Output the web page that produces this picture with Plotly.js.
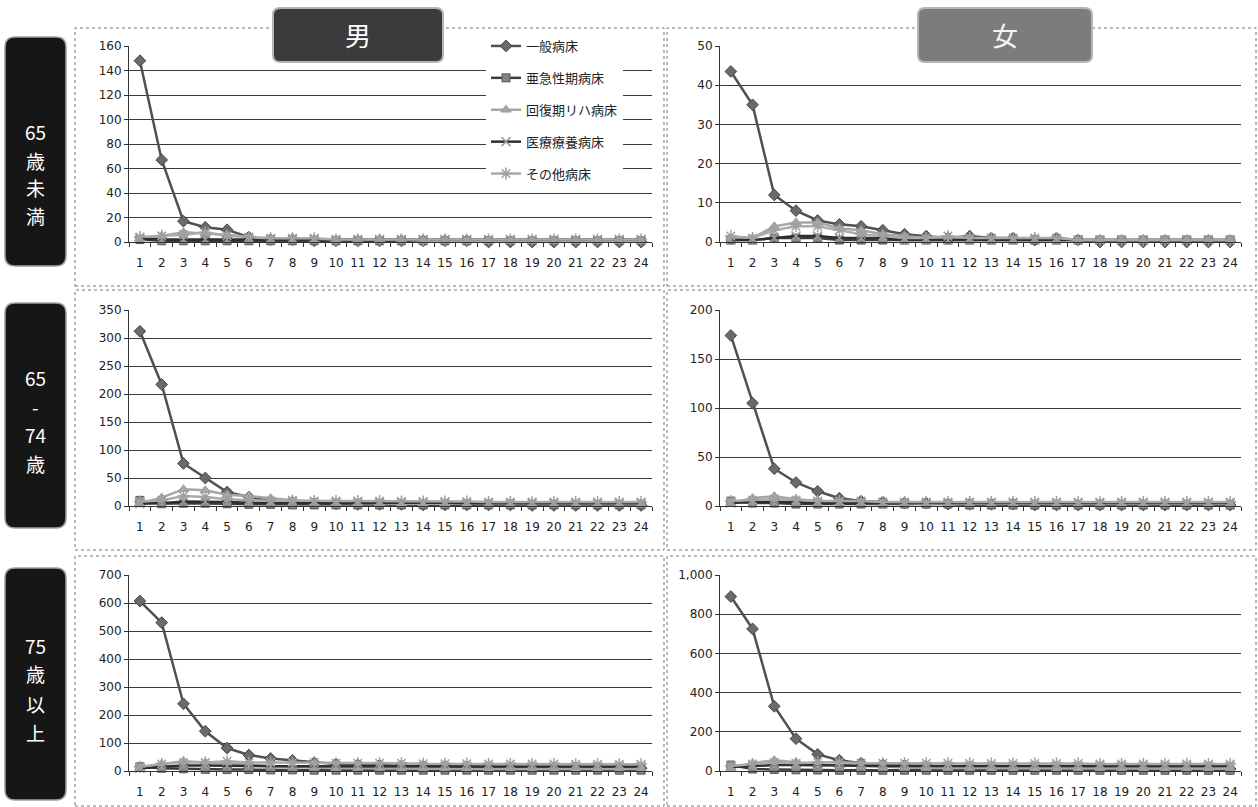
<!DOCTYPE html>
<html>
<head>
<meta charset="utf-8">
<script src="https://cdn.plot.ly/plotly-3.0.1.min.js"></script>
<style>
  html, body { margin: 0; padding: 0; background: #fff; }
  #chart { width: 1258px; height: 807px; }
</style>
</head>
<body>
<div id="chart"></div>
<script>
// Categories 1..24
const categories = Array.from({length: 24}, (_, i) => String(i + 1));

const seriesNames = ['一般病床', '亜急性期病床', '回復期リハ病床', '医療療養病床', 'その他病床'];

// 男・65歳未満
const ippan_m1   = [148, 67, 17, 12, 10, 4, 2, 2, 1, 1, 1, 1, 1, 1, 1, 1, 0, 0, 0, 0, 0, 0, 0, 0];
const akyu_m1    = [2, 1, 1, 1, 1, 1, 1, 1, 1, 1, 1, 1, 1, 1, 1, 1, 1, 1, 1, 1, 1, 1, 1, 1];
const kaifuku_m1 = [3, 5, 8, 7, 6, 4, 3, 3, 2, 2, 2, 2, 2, 1, 1, 1, 1, 1, 1, 1, 1, 1, 1, 1];
const ryoyo_m1   = [3, 2, 2, 2, 2, 2, 2, 2, 2, 2, 2, 2, 2, 2, 2, 2, 2, 2, 2, 2, 2, 2, 2, 2];
const sonota_m1  = [4, 5, 6, 8, 5, 4, 3, 3, 3, 2, 2, 2, 2, 2, 2, 2, 2, 2, 2, 2, 2, 2, 2, 2];

// 女・65歳未満
const ippan_f1   = [43.5, 35, 12, 8, 5.5, 4.5, 4, 3, 2, 1.5, 1, 1.5, 1, 1, 0.5, 1, 0.5, 0, 0, 0, 0, 0, 0, 0];
const akyu_f1    = [0.5, 0.5, 1, 1, 1, 0.5, 0.5, 0.5, 0.5, 0.5, 0.5, 0.5, 0.5, 0.5, 0.5, 0.5, 0.5, 0.5, 0.5, 0.5, 0.5, 0.5, 0.5, 0.5];
const kaifuku_f1 = [1, 1, 4, 5, 5, 3.5, 3, 2, 1.5, 1, 1, 1, 0.5, 0.5, 0.5, 0.5, 0.5, 0.5, 0.5, 0.5, 0.5, 0.5, 0.5, 0.5];
const ryoyo_f1   = [0.5, 0.5, 1, 1.5, 1.5, 1, 1, 1, 0.5, 0.5, 0.5, 0.5, 0.5, 0.5, 0.5, 0.5, 0.5, 0.5, 0.5, 0.5, 0.5, 0.5, 0.5, 0.5];
const sonota_f1  = [1.5, 1, 3, 4, 4, 3, 2, 1.5, 1, 1, 1.5, 1, 1, 1, 1, 1, 0.5, 0.5, 0.5, 0.5, 0.5, 0.5, 0.5, 0.5];

// 男・65-74歳
const ippan_m2   = [312, 217, 76, 50, 25, 16, 9, 6, 5, 4, 3, 3, 3, 2, 2, 2, 2, 2, 1, 1, 1, 1, 1, 1];
const akyu_m2    = [10, 4, 5, 5, 4, 3, 3, 2, 2, 2, 2, 2, 2, 2, 2, 2, 2, 2, 2, 2, 2, 2, 2, 2];
const kaifuku_m2 = [5, 15, 30, 28, 20, 18, 14, 10, 7, 6, 5, 5, 4, 4, 4, 3, 3, 3, 3, 3, 3, 3, 3, 3];
const ryoyo_m2   = [4, 5, 8, 8, 7, 6, 6, 7, 7, 6, 6, 6, 6, 6, 6, 5, 5, 5, 5, 5, 5, 5, 5, 5];
const sonota_m2  = [8, 10, 18, 16, 12, 10, 9, 10, 9, 9, 9, 9, 8, 8, 8, 8, 7, 7, 7, 7, 7, 7, 7, 7];

// 女・65-74歳
const ippan_f2   = [174, 105, 38, 24, 15, 8, 5, 4, 3, 3, 2, 2, 2, 2, 1, 1, 1, 1, 1, 1, 1, 1, 1, 1];
const akyu_f2    = [5, 3, 3, 2, 2, 2, 2, 2, 2, 2, 2, 1, 1, 1, 1, 1, 1, 1, 1, 1, 1, 1, 1, 1];
const kaifuku_f2 = [3, 8, 10, 7, 5, 4, 3, 3, 3, 2, 2, 2, 2, 2, 2, 2, 2, 2, 2, 2, 2, 2, 2, 2];
const ryoyo_f2   = [3, 4, 4, 4, 3, 3, 3, 3, 3, 3, 3, 3, 3, 3, 3, 3, 3, 3, 3, 3, 3, 3, 3, 3];
const sonota_f2  = [5, 6, 7, 6, 5, 5, 5, 4, 4, 4, 4, 4, 4, 4, 4, 4, 4, 4, 4, 4, 4, 4, 4, 4];

// 男・75歳以上
const ippan_m3   = [607, 530, 240, 142, 82, 57, 45, 38, 30, 25, 22, 20, 18, 17, 16, 15, 14, 13, 12, 12, 11, 10, 10, 10];
const akyu_m3    = [15, 10, 8, 6, 5, 5, 4, 4, 3, 3, 3, 3, 3, 3, 3, 3, 3, 3, 3, 3, 3, 3, 3, 3];
const kaifuku_m3 = [12, 25, 35, 30, 25, 22, 18, 15, 12, 10, 10, 9, 8, 8, 8, 7, 7, 7, 7, 7, 7, 7, 7, 7];
const ryoyo_m3   = [10, 15, 20, 20, 18, 18, 17, 17, 17, 17, 17, 17, 17, 16, 16, 16, 16, 16, 16, 16, 16, 16, 16, 16];
const sonota_m3  = [15, 25, 30, 30, 35, 30, 30, 30, 30, 28, 28, 28, 28, 26, 26, 26, 25, 25, 25, 25, 24, 24, 24, 24];

// 女・75歳以上
const ippan_f3   = [890, 725, 330, 165, 85, 55, 40, 32, 28, 25, 22, 20, 19, 18, 17, 16, 15, 14, 13, 13, 12, 12, 11, 11];
const akyu_f3    = [30, 10, 8, 6, 5, 4, 4, 4, 4, 4, 4, 4, 4, 4, 4, 4, 4, 4, 4, 4, 4, 4, 4, 4];
const kaifuku_f3 = [15, 40, 55, 45, 35, 30, 25, 20, 18, 15, 15, 14, 13, 12, 12, 12, 12, 12, 12, 12, 12, 12, 12, 12];
const ryoyo_f3   = [20, 25, 30, 30, 28, 28, 25, 25, 25, 25, 25, 25, 25, 25, 25, 25, 25, 25, 25, 25, 25, 25, 25, 25];
const sonota_f3  = [25, 35, 45, 40, 45, 45, 40, 40, 40, 40, 40, 38, 38, 38, 38, 38, 38, 36, 36, 36, 36, 36, 36, 36];

// y-axis scales per panel
const yMax   = [160, 50, 350, 200, 700, 1000];
const yDtick = [20, 10, 50, 50, 100, 200];

// panel order: [男<65, 女<65, 男65-74, 女65-74, 男75+, 女75+]
const panels = [
  [ippan_m1, akyu_m1, kaifuku_m1, ryoyo_m1, sonota_m1],
  [ippan_f1, akyu_f1, kaifuku_f1, ryoyo_f1, sonota_f1],
  [ippan_m2, akyu_m2, kaifuku_m2, ryoyo_m2, sonota_m2],
  [ippan_f2, akyu_f2, kaifuku_f2, ryoyo_f2, sonota_f2],
  [ippan_m3, akyu_m3, kaifuku_m3, ryoyo_m3, sonota_m3],
  [ippan_f3, akyu_f3, kaifuku_f3, ryoyo_f3, sonota_f3]
];

// row label lines and header texts
const rowLabelLines = [['65', '歳', '未', '満'], ['65', '-', '74', '歳'], ['75', '歳', '以', '上']];
const headerTexts = ['男', '女'];

// grayscale series styling
const styles = [
  {line: {color: '#505050', width: 2.5}, marker: {symbol: 'diamond', size: 9, color: '#6a6a6a', line: {color: '#444', width: 1}}},
  {line: {color: '#3c3c3c', width: 2.5}, marker: {symbol: 'square', size: 8, color: '#858585', line: {color: '#555', width: 1}}},
  {line: {color: '#a6a6a6', width: 2.5}, marker: {symbol: 'triangle-up', size: 9, color: '#a8a8a8', line: {color: '#999', width: 1}}},
  {line: {color: '#2e2e2e', width: 2.5}, marker: {symbol: 'x-thin-open', size: 9, color: '#9a9a9a', line: {color: '#9a9a9a', width: 1.5}}},
  {line: {color: '#ababab', width: 2.5}, marker: {symbol: 'asterisk-open', size: 10, color: '#a0a0a0', line: {color: '#a0a0a0', width: 1.5}}}
];

const W = 1258, H = 807;
const fx = x => x / W;
const fy = y => 1 - y / H;

// plot-area rectangles in pixels
const colX = [[129, 652], [720, 1241]];
const rowY = [[46, 242], [310, 506], [575, 771]];

const traces = [];
const layout = {
  width: W, height: H,
  margin: {l: 0, r: 0, t: 0, b: 0},
  paper_bgcolor: '#ffffff',
  plot_bgcolor: '#ffffff',
  showlegend: true,
  font: {family: 'DejaVu Sans, sans-serif', size: 12, color: '#222'},
  legend: {
    x: fx(486), y: fy(31), xanchor: 'left', yanchor: 'top',
    bgcolor: '#ffffff', borderwidth: 0,
    font: {family: 'Noto Sans CJK JP, sans-serif', size: 13, color: '#222'},
    traceorder: 'grouped', tracegroupgap: 12, itemwidth: 30
  },
  shapes: [],
  annotations: []
};

panels.forEach((series, p) => {
  const col = p % 2, row = Math.floor(p / 2);
  const n = p + 1;
  const xa = 'x' + (n === 1 ? '' : n), ya = 'y' + (n === 1 ? '' : n);
  series.forEach((vals, s) => {
    traces.push({
      type: 'scatter', mode: 'lines+markers',
      x: categories, y: vals,
      name: seriesNames[s],
      legendgroup: 'g' + s,
      showlegend: p === 0,
      xaxis: xa, yaxis: ya,
      line: styles[s].line, marker: styles[s].marker,
      cliponaxis: false
    });
  });
  layout['xaxis' + (n === 1 ? '' : n)] = {
    domain: [fx(colX[col][0]), fx(colX[col][1])],
    anchor: ya, type: 'category', range: [-0.5, 23.5],
    showline: true, linecolor: '#333', linewidth: 1,
    ticks: 'outside', ticklen: 4, tickcolor: '#333', tickson: 'boundaries',
    tickangle: 0, automargin: false, ticklabelstandoff: 10,
    showgrid: false, zeroline: false,
    tickfont: {family: 'DejaVu Sans, sans-serif', size: 12, color: '#222'},
    fixedrange: true
  };
  layout['yaxis' + (n === 1 ? '' : n)] = {
    domain: [fy(rowY[row][1]), fy(rowY[row][0])],
    anchor: xa, range: [0, yMax[p]], dtick: yDtick[p],
    tickformat: ',d',
    showline: true, linecolor: '#333', linewidth: 1,
    ticks: 'outside', ticklen: 4, tickcolor: '#333',
    showgrid: true, gridcolor: '#3a3a3a', gridwidth: 1,
    zeroline: false,
    tickfont: {family: 'DejaVu Sans, sans-serif', size: 12, color: '#222'},
    fixedrange: true
  };
});

// chart frames (dotted borders)
const frames = [
  [75, 28, 664, 286], [667, 28, 1256, 286],
  [75, 290, 664, 550], [667, 290, 1256, 550],
  [75, 556, 664, 806], [667, 556, 1256, 806]
];
frames.forEach(f => {
  layout.shapes.push({
    type: 'rect', xref: 'paper', yref: 'paper', layer: 'below',
    x0: fx(f[0]), x1: fx(f[2]), y0: fy(f[3]), y1: fy(f[1]),
    line: {color: '#777', width: 1, dash: 'dot'}, fillcolor: 'rgba(0,0,0,0)'
  });
});

// rounded rectangle path in paper units
function roundRect(x0, y0, x1, y1, r) {
  const P = (x, y) => fx(x).toFixed(5) + ',' + fy(y).toFixed(5);
  return 'M' + P(x0 + r, y0) + ' L' + P(x1 - r, y0) + ' Q' + P(x1, y0) + ' ' + P(x1, y0 + r) +
    ' L' + P(x1, y1 - r) + ' Q' + P(x1, y1) + ' ' + P(x1 - r, y1) +
    ' L' + P(x0 + r, y1) + ' Q' + P(x0, y1) + ' ' + P(x0, y1 - r) +
    ' L' + P(x0, y0 + r) + ' Q' + P(x0, y0) + ' ' + P(x0 + r, y0) + ' Z';
}

// column headers
const headerBoxes = [
  {box: [273, 8, 443, 62], fill: '#3b3b3b', color: '#ffffff'},
  {box: [918, 8, 1092, 62], fill: '#7c7c7c', color: '#f4f4f4'}
];
headerBoxes.forEach((h, i) => {
  const b = h.box;
  layout.shapes.push({
    type: 'path', xref: 'paper', yref: 'paper', layer: 'above',
    path: roundRect(b[0], b[1], b[2], b[3], 7),
    fillcolor: h.fill, line: {color: '#b5b5b5', width: 2}
  });
  layout.annotations.push({
    xref: 'paper', yref: 'paper', x: fx((b[0] + b[2]) / 2), y: fy((b[1] + b[3]) / 2),
    xanchor: 'center', yanchor: 'middle', showarrow: false,
    text: headerTexts[i], font: {family: 'Noto Sans CJK JP, sans-serif', size: 26, color: h.color}
  });
});

// row labels: boxes and one annotation per text line
const rowBoxes = [[5, 37, 66, 266], [5, 303, 66, 528], [5, 568, 66, 800]];
const rowLineY = [[132, 160, 188, 216], [378, 406, 435, 463], [645, 673, 703, 732]];
rowBoxes.forEach((b, i) => {
  layout.shapes.push({
    type: 'path', xref: 'paper', yref: 'paper', layer: 'above',
    path: roundRect(b[0], b[1], b[2], b[3], 10),
    fillcolor: '#161616', line: {color: '#a0a0a0', width: 1.5}
  });
  rowLabelLines[i].forEach((t, k) => {
    layout.annotations.push({
      xref: 'paper', yref: 'paper', x: fx((b[0] + b[2]) / 2), y: fy(rowLineY[i][k]),
      xanchor: 'center', yanchor: 'middle', showarrow: false,
      text: t, font: {family: 'Noto Sans CJK JP, sans-serif', size: 19, color: '#ffffff'}
    });
  });
});

Plotly.newPlot('chart', traces, layout, {displayModeBar: false, staticPlot: true});
</script>
</body>
</html>
